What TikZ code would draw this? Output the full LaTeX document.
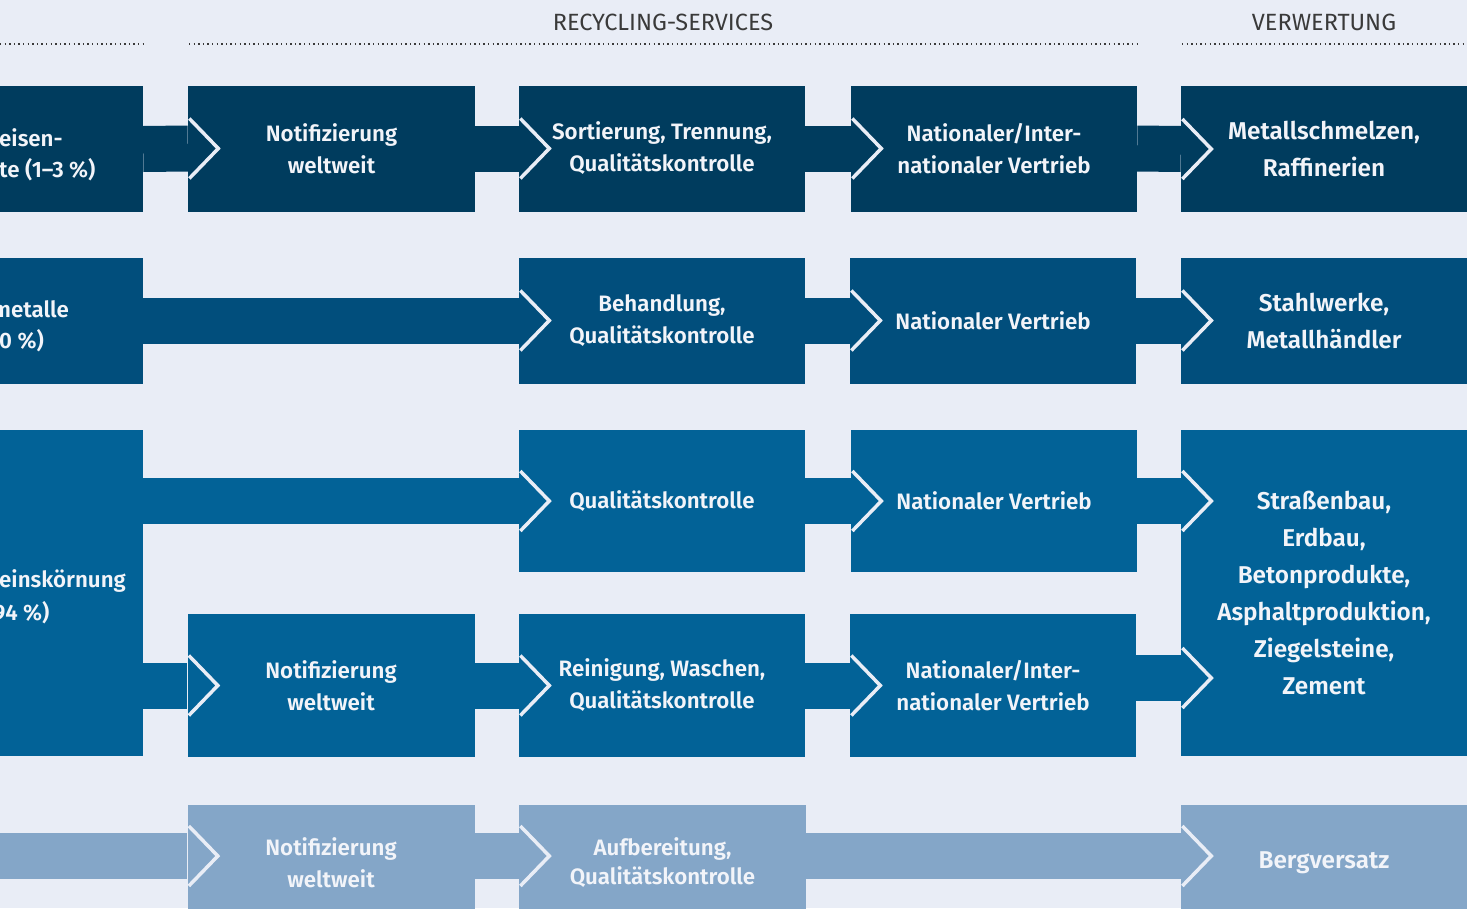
\documentclass[tikz,border=0pt]{standalone}
\usepackage{fontspec}
\setmainfont{Fira Sans}[BoldFont={Fira Sans SemiBold}]
\definecolor{bg}{HTML}{E9EDF6}
\definecolor{cA}{HTML}{003C5E}
\definecolor{cB}{HTML}{014E7C}
\definecolor{cC}{HTML}{026297}
\definecolor{cD}{HTML}{84A6C8}
\definecolor{txt}{HTML}{F2F4F9}
\definecolor{hd}{HTML}{3A3A3A}
\newcommand\chevat[1]{\draw[chev] ([shift={(1.5pt,30pt)}]#1) -- ([shift={(30.5pt,0pt)}]#1) -- ([shift={(1.5pt,-30pt)}]#1);}
\begin{document}
\begin{tikzpicture}[x=1pt,y=-1pt,
  bx/.style={inner sep=0pt, align=center, text=txt, font=\bfseries\fontsize{22.3}{32}\selectfont},
  bxL/.style={bx, font=\bfseries\fontsize{24.3}{37}\selectfont},
  lt/.style={inner sep=0pt, anchor=west, text=txt, font=\bfseries\fontsize{22.3}{32}\selectfont},
  w0/.style={minimum width=143pt}, w1/.style={minimum width=287pt}, w2/.style={minimum width=286pt},
  band/.style={line width=46pt},
  chev/.style={draw=bg, line width=3.5pt},
  dots/.style={draw=hd, line width=1.4pt, dash pattern=on 1.4pt off 3.2pt},
  head/.style={text=hd, font=\fontsize{23.5}{26}\selectfont, inner sep=0pt}]
\clip (0,0) rectangle (1467,908);
\fill[bg] (0,0) rectangle (1467,908);
% headers
\node[head] (h1) at (663,22) {RECYCLING-SERVICES};
\node[head] (h2) at (1324,22) {VERWERTUNG};
\coordinate (d0a) at (0,44); \coordinate (d0b) at (143,44);
\coordinate (d1a) at (189,44); \coordinate (d1b) at (1137,44);
\coordinate (d2a) at (1182,44); \coordinate (d2b) at (1467,44);
\draw[dots] (d0a) -- (d0b);
\draw[dots] (d1a) -- (d1b);
\draw[dots] (d2a) -- (d2b);
% row 1
\node[bx, fill=cA, w0, minimum height=126pt] (r1c0) at (71.5,149) {};
\node[bx, fill=cA, w1, minimum height=126pt] (r1c1) at (331.5,148.5) {Notifizierung\\weltweit};
\node[bx, fill=cA, w2, minimum height=126pt] (r1c2) at (662,148.5) {Sortierung, Trennung,\\Qualitätskontrolle};
\node[bx, fill=cA, w2, minimum height=126pt] (r1c3) at (994,148.5) {Nationaler/Inter-\\nationaler Vertrieb};
\node[bxL, fill=cA, w2, minimum height=126pt] (r1c4) at (1324,149) {Metallschmelzen,\\Raffinerien};
\node[lt] (t1a) at (-1,138) {eisen-};
\node[lt] (t1b) at (-1,170) {te (1–3 \%)};
\draw[band, cA] (r1c0.east) -- (r1c1.west);
\draw[band, cA] (r1c1.east) -- (r1c2.west);
\draw[band, cA] (r1c2.east) -- (r1c3.west);
\draw[band, cA] (r1c3.east) -- (r1c4.west);
\chevat{r1c1.west}\chevat{r1c2.west}\chevat{r1c3.west}\chevat{r1c4.west}
% row 2
\node[bx, fill=cB, w0, minimum height=126pt] (r2c0) at (71.5,320.5) {};
\node[bx, fill=cB, w2, minimum height=126pt] (r2c2) at (662,320.5) {Behandlung,\\Qualitätskontrolle};
\node[bx, fill=cB, w2, minimum height=126pt] (r2c3) at (993,320.5) {Nationaler Vertrieb};
\node[bxL, fill=cB, w2, minimum height=126pt] (r2c4) at (1324,320.5) {Stahlwerke,\\Metallhändler};
\node[lt] (t2a) at (-8,309) {metalle};
\node[lt] (t2b) at (-1,341) {0 \%)};
\draw[band, cB] (r2c0.east) -- (r2c2.west);
\draw[band, cB] (r2c2.east) -- (r2c3.west);
\draw[band, cB] (r2c3.east) -- (r2c4.west);
\chevat{r2c2.west}\chevat{r2c3.west}\chevat{r2c4.west}
% row 3
\node[bx, fill=cC, w0, minimum height=326pt] (r3c0) at (71.5,593) {};
\node[bx, fill=cC, w2, minimum height=142pt] (r3a2) at (662,501) {Qualitätskontrolle};
\node[bx, fill=cC, w2, minimum height=142pt] (r3a3) at (994,501) {Nationaler Vertrieb};
\node[bx, fill=cC, w1, minimum height=143pt] (r3b1) at (331,685.5) {Notifizierung\\weltweit};
\node[bx, fill=cC, w2, minimum height=143pt] (r3b2) at (662,685.5) {Reinigung, Waschen,\\Qualitätskontrolle};
\node[bx, fill=cC, w2, minimum height=143pt] (r3b3) at (993,685.5) {Nationaler/Inter-\\nationaler Vertrieb};
\node[bxL, fill=cC, w2, minimum height=326pt] (r3c4) at (1324,593) {Straßenbau,\\Erdbau,\\Betonprodukte,\\Asphaltproduktion,\\Ziegelsteine,\\Zement};
\node[lt] (t3a) at (-1,581) {einskörnung};
\node[lt] (t3b) at (-7,613) {94 \%)};
\draw[band, cC] (r3c0.east |- r3a2.west) -- (r3a2.west);
\draw[band, cC] (r3a2.east) -- (r3a3.west);
\draw[band, cC] (r3a3.east) -- (r3a3.east -| r3c4.west);
\draw[band, cC] (r3c0.east |- r3b1.west) -- (r3b1.west);
\draw[band, cC] (r3b1.east) -- (r3b2.west);
\draw[band, cC] (r3b2.east) -- (r3b3.west);
\coordinate (k3) at ([yshift=7.5pt]r3b3.east);
\coordinate (k4) at (k3 -| r3c4.west);
\draw[band, cC] (k3) -- (k4);
\chevat{r3a2.west}\chevat{r3a3.west}\chevat{r3a3.east -| r3c4.west}
\chevat{r3b1.west}\chevat{r3b2.west}\chevat{r3b3.west}\chevat{k4}
% row 4
\coordinate (r4s) at (0,856);
\node[bx, fill=cD, w1, minimum height=116pt] (r4c1) at (331,863) {Notifizierung\\weltweit};
\node[bx, fill=cD, w1, minimum height=116pt, font=\bfseries\fontsize{22.3}{29}\selectfont] (r4c2) at (662.5,863) {Aufbereitung,\\Qualitätskontrolle};
\node[bxL, fill=cD, w2, minimum height=116pt] (r4c4) at (1324,863) {Bergversatz};
\coordinate (r4a) at ([yshift=7pt]r4c1.west);
\coordinate (r4b) at ([yshift=7pt]r4c2.west);
\coordinate (r4c) at ([yshift=7pt]r4c4.west);
\draw[band, cD] (r4s) -- (r4a);
\draw[band, cD] ([yshift=7pt]r4c1.east) -- (r4b);
\draw[band, cD] ([yshift=7pt]r4c2.east) -- (r4c);
\chevat{r4a}\chevat{r4b}\chevat{r4c}
\end{tikzpicture}
\end{document}
